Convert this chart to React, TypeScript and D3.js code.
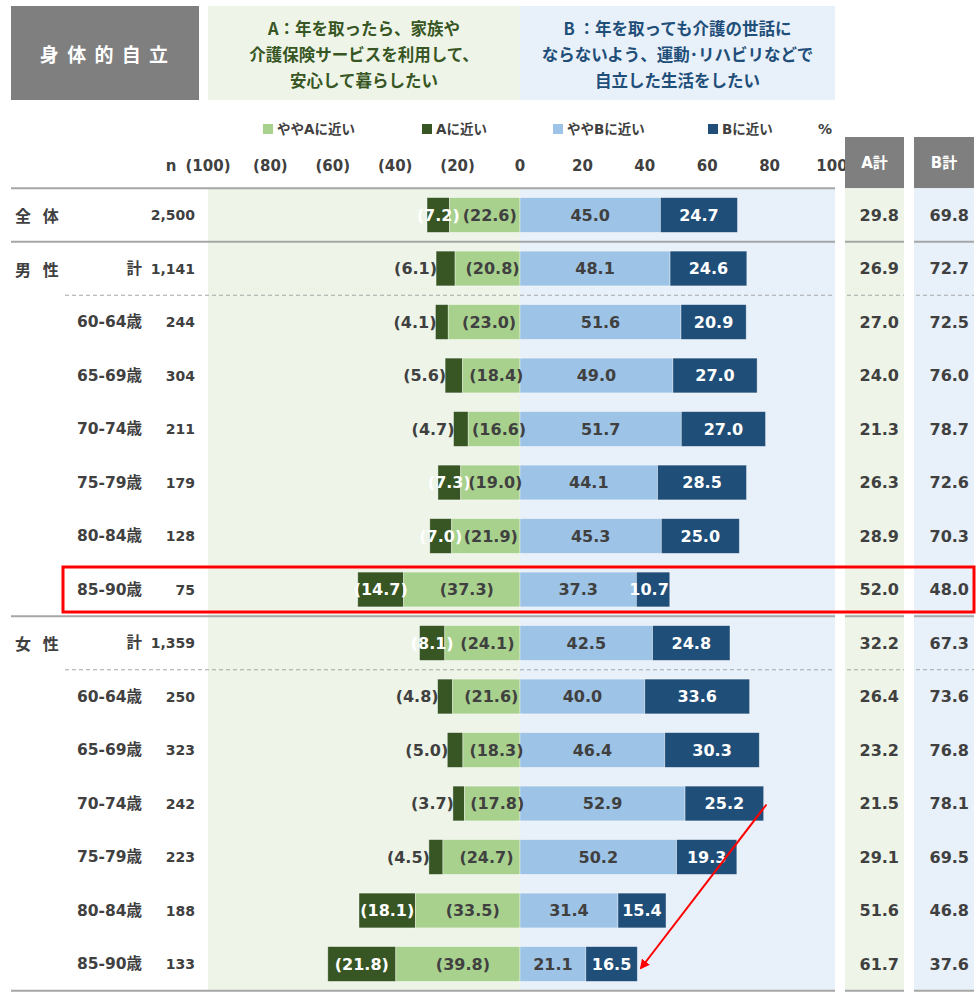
import React from "react";
import * as d3 from "d3";

// ---------- data ----------
const groupLabels = ["全 体", "男 性", "", "", "", "", "", "", "女 性", "", "", "", "", "", ""];
const subLabels = ["", "計", "60-64歳", "65-69歳", "70-74歳", "75-79歳", "80-84歳", "85-90歳", "計", "60-64歳", "65-69歳", "70-74歳", "75-79歳", "80-84歳", "85-90歳"];
const nValues = ["2,500", "1,141", "244", "304", "211", "179", "128", "75", "1,359", "250", "323", "242", "223", "188", "133"];
const nearA = [7.2, 6.1, 4.1, 5.6, 4.7, 7.3, 7.0, 14.7, 8.1, 4.8, 5.0, 3.7, 4.5, 18.1, 21.8];
const slightlyA = [22.6, 20.8, 23.0, 18.4, 16.6, 19.0, 21.9, 37.3, 24.1, 21.6, 18.3, 17.8, 24.7, 33.5, 39.8];
const slightlyB = [45.0, 48.1, 51.6, 49.0, 51.7, 44.1, 45.3, 37.3, 42.5, 40.0, 46.4, 52.9, 50.2, 31.4, 21.1];
const nearB = [24.7, 24.6, 20.9, 27.0, 27.0, 28.5, 25.0, 10.7, 24.8, 33.6, 30.3, 25.2, 19.3, 15.4, 16.5];
const totalA = [29.8, 26.9, 27.0, 24.0, 21.3, 26.3, 28.9, 52.0, 32.2, 26.4, 23.2, 21.5, 29.1, 51.6, 61.7];
const totalB = [69.8, 72.7, 72.5, 76.0, 78.7, 72.6, 70.3, 48.0, 67.3, 73.6, 76.8, 78.1, 69.5, 46.8, 37.6];
const axisTicks = [-100, -80, -60, -40, -20, 0, 20, 40, 60, 80, 100];
const legendLabels = ["ややAに近い", "Aに近い", "ややBに近い", "Bに近い"];
const headerA = ["A：年を取ったら、家族や", "介護保険サービスを利用して、", "安心して暮らしたい"];
const headerB = ["B ：年を取っても介護の世話に", "ならないよう、運動･リハビリなどで", "自立した生活をしたい"];
const title = "身 体 的 自 立";
const solidAfter = [0, 7];
const dashedAfter = [1, 8];
const highlightRow = 7;
const arrowFrom = { row: 11, value: 79 };
const arrowTo = { row: 14, value: 38.8 };

// ---------- style ----------
const C_LA = "#a9d18e";
const C_DA = "#375623";
const C_LB = "#9dc3e6";
const C_DB = "#1f4e79";
const BG_A = "#eef5e8";
const BG_B = "#e8f1fa";
const GRAY = "#7f7f7f";
const TXT = "#404040";
const LINE = "#a6a6a6";
const NUM = "'DejaVu Sans', 'Noto Sans CJK JP', sans-serif";
const JP = "'Noto Sans CJK JP', sans-serif";
const legendColors = [C_LA, C_DA, C_LB, C_DB];

export default function App() {
  const W = 980;
  const H = 1003;
  const rows = d3.range(nValues.length);
  const x = d3.scaleLinear().domain([-100, 100]).range([208, 832]);
  const y = d3
    .scaleBand<number>()
    .domain(rows)
    .range([188.25, 990.75])
    .paddingInner(0.35)
    .paddingOuter(0.175);
  const bw = y.bandwidth();
  const step = y.step();
  const cy = (i: number) => (y(i) as number) + bw / 2;
  const top = 188.25;
  const bottom = 990.75;
  const boundary = (i: number) => cy(i) + step / 2;

  const plotRight = 835;
  const colA: [number, number] = [845, 904];
  const colB: [number, number] = [914, 974];

  const legendX = [263, 422, 553, 708];

  const fmtTick = (v: number) => (v < 0 ? `(${-v})` : `${v}`);

  return (
    <svg
      width={W}
      height={H}
      style={{ position: "absolute", left: 0, top: 0, display: "block", background: "#fff" }}
    >
      <defs>
        <marker id="arrowhead" viewBox="0 0 10 10" refX="8" refY="5" markerWidth="5" markerHeight="5" orient="auto">
          <path d="M0,0 L10,5 L0,10 z" fill="#ff0000" />
        </marker>
      </defs>

      {/* header boxes */}
      <rect x={11} y={6} width={188} height={94} fill={GRAY} />
      <text
        x={105}
        y={53}
        textAnchor="middle"
        dominantBaseline="central"
        fill="#fff"
        fontFamily={JP}
        fontWeight={700}
        fontSize={19}
        style={{ whiteSpace: "pre" }}
        xmlSpace="preserve"
        letterSpacing={2}
      >
        {title}
      </text>
      <rect x={x(-100)} y={6} width={x(0) - x(-100)} height={94} fill={BG_A} />
      <rect x={x(0)} y={6} width={plotRight - x(0)} height={94} fill={BG_B} />
      {headerA.map((t, i) => (
        <text key={"ha" + i} x={(x(-100) + x(0)) / 2} y={28 + i * 26} textAnchor="middle" dominantBaseline="central"
          fill={C_DA} fontFamily={JP} fontWeight={700} fontSize={16.5}>
          {t}
        </text>
      ))}
      {headerB.map((t, i) => (
        <text key={"hb" + i} x={(x(0) + plotRight) / 2} y={28 + i * 26} textAnchor="middle" dominantBaseline="central"
          fill={C_DB} fontFamily={JP} fontWeight={700} fontSize={16.5}>
          {t}
        </text>
      ))}

      {/* legend */}
      {legendLabels.map((t, i) => (
        <g key={"lg" + i}>
          <rect x={legendX[i]} y={124} width={10} height={10} fill={legendColors[i]} />
          <text x={legendX[i] + 14} y={129} dominantBaseline="central" fill={TXT} fontFamily={NUM} fontWeight={700} fontSize={13.5}>
            {t}
          </text>
        </g>
      ))}
      <text x={825} y={129} textAnchor="middle" dominantBaseline="central" fill={TXT} fontFamily={NUM} fontWeight={700} fontSize={14}>
        %
      </text>

      {/* axis tick labels */}
      <text x={171} y={166} textAnchor="middle" dominantBaseline="central" fill={TXT} fontFamily={NUM} fontWeight={700} fontSize={15}>
        n
      </text>
      {axisTicks.map((v) => (
        <text key={"t" + v} x={x(v)} y={166} textAnchor="middle" dominantBaseline="central" fill={TXT} fontFamily={NUM} fontWeight={700} fontSize={15}>
          {fmtTick(v)}
        </text>
      ))}

      {/* A計 / B計 headers */}
      <rect x={colA[0]} y={137} width={colA[1] - colA[0]} height={top - 137} fill={GRAY} />
      <rect x={colB[0]} y={137} width={colB[1] - colB[0]} height={top - 137} fill={GRAY} />
      <text x={(colA[0] + colA[1]) / 2} y={163} textAnchor="middle" dominantBaseline="central" fill="#fff" fontFamily={NUM} fontWeight={700} fontSize={15}>
        A計
      </text>
      <text x={(colB[0] + colB[1]) / 2} y={163} textAnchor="middle" dominantBaseline="central" fill="#fff" fontFamily={NUM} fontWeight={700} fontSize={15}>
        B計
      </text>

      {/* plot backgrounds */}
      <rect x={x(-100)} y={top} width={x(0) - x(-100)} height={bottom - top} fill={BG_A} />
      <rect x={x(0)} y={top} width={plotRight - x(0)} height={bottom - top} fill={BG_B} />
      <rect x={colA[0]} y={top} width={colA[1] - colA[0]} height={bottom - top} fill={BG_A} />
      <rect x={colB[0]} y={top} width={colB[1] - colB[0]} height={bottom - top} fill={BG_B} />

      {/* separators */}
      <line x1={11} x2={plotRight} y1={top} y2={top} stroke={LINE} strokeWidth={2} />
      {[...solidAfter.map(boundary), bottom].map((yy, k) => (
        <g key={"sl" + k}>
          <line x1={11} x2={plotRight} y1={yy} y2={yy} stroke={LINE} strokeWidth={2} />
          <line x1={colA[0]} x2={colA[1]} y1={yy} y2={yy} stroke={LINE} strokeWidth={2} />
          <line x1={colB[0]} x2={colB[1]} y1={yy} y2={yy} stroke={LINE} strokeWidth={2} />
        </g>
      ))}
      {dashedAfter.map(boundary).map((yy, k) => (
        <g key={"dl" + k}>
          <line x1={65} x2={plotRight} y1={yy} y2={yy} stroke={LINE} strokeWidth={1} strokeDasharray="4 3" />
          <line x1={colA[0] + 2} x2={colA[1]} y1={yy} y2={yy} stroke={LINE} strokeWidth={1} strokeDasharray="4 3" />
          <line x1={colB[0] + 2} x2={colB[1]} y1={yy} y2={yy} stroke={LINE} strokeWidth={1} strokeDasharray="4 3" />
        </g>
      ))}

      {/* rows */}
      {rows.map((i) => {
        const yy = y(i) as number;
        const c = cy(i);
        const a0 = x(-(nearA[i] + slightlyA[i]));
        const a1 = x(-slightlyA[i]);
        const z = x(0);
        const b1 = x(slightlyB[i]);
        const b2 = x(slightlyB[i] + nearB[i]);
        const insideA = nearA[i] >= 7;
        return (
          <g key={"r" + i}>
            {groupLabels[i] && (
              <text x={15} y={c} dominantBaseline="central" fill={TXT} fontFamily={JP} fontWeight={700} fontSize={16} xmlSpace="preserve" style={{ whiteSpace: "pre" }} letterSpacing={4}>
                {groupLabels[i]}
              </text>
            )}
            {subLabels[i] && (
              <text x={142} y={c} textAnchor="end" dominantBaseline="central" fill={TXT} fontFamily={NUM} fontWeight={700} fontSize={15.5}>
                {subLabels[i]}
              </text>
            )}
            <text x={195} y={c} textAnchor="end" dominantBaseline="central" fill={TXT} fontFamily={NUM} fontWeight={700} fontSize={14}>
              {nValues[i]}
            </text>

            <rect x={a0} y={yy} width={a1 - a0} height={bw} fill={C_DA} stroke="#ffffff" strokeOpacity={0.5} strokeWidth={0.75} />
            <rect x={a1} y={yy} width={z - a1} height={bw} fill={C_LA} stroke="#ffffff" strokeOpacity={0.5} strokeWidth={0.75} />
            <rect x={z} y={yy} width={b1 - z} height={bw} fill={C_LB} stroke="#ffffff" strokeOpacity={0.5} strokeWidth={0.75} />
            <rect x={b1} y={yy} width={b2 - b1} height={bw} fill={C_DB} stroke="#ffffff" strokeOpacity={0.5} strokeWidth={0.75} />

            <text
              x={insideA ? (a0 + a1) / 2 : a0 + 1}
              y={c}
              textAnchor={insideA ? "middle" : "end"}
              dominantBaseline="central"
              fill={insideA ? "#ffffff" : TXT}
              fontFamily={NUM}
              fontWeight={700}
              fontSize={16}
            >
              {`(${nearA[i].toFixed(1)})`}
            </text>
            <text x={(a1 + z) / 2 + 5} y={c} textAnchor="middle" dominantBaseline="central" fill={TXT} fontFamily={NUM} fontWeight={700} fontSize={16}>
              {`(${slightlyA[i].toFixed(1)})`}
            </text>
            <text x={(z + b1) / 2} y={c} textAnchor="middle" dominantBaseline="central" fill={TXT} fontFamily={NUM} fontWeight={700} fontSize={16}>
              {slightlyB[i].toFixed(1)}
            </text>
            <text x={(b1 + b2) / 2 - 4 * (nearB[i] < 12 ? 1 : 0)} y={c} textAnchor="middle" dominantBaseline="central" fill="#ffffff" fontFamily={NUM} fontWeight={700} fontSize={16}>
              {nearB[i].toFixed(1)}
            </text>

            <text x={colA[1] - 5} y={c} textAnchor="end" dominantBaseline="central" fill={TXT} fontFamily={NUM} fontWeight={700} fontSize={16}>
              {totalA[i].toFixed(1)}
            </text>
            <text x={colB[1] - 5} y={c} textAnchor="end" dominantBaseline="central" fill={TXT} fontFamily={NUM} fontWeight={700} fontSize={16}>
              {totalB[i].toFixed(1)}
            </text>
          </g>
        );
      })}

      {/* highlight box */}
      <rect x={63} y={cy(highlightRow) - 22.5} width={974 - 63} height={45} fill="none" stroke="#ff0000" strokeWidth={3} />

      {/* annotation arrow */}
      <line
        x1={x(arrowFrom.value)}
        y1={cy(arrowFrom.row) + 1}
        x2={x(arrowTo.value)}
        y2={cy(arrowTo.row) + 4}
        stroke="#ff0000"
        strokeWidth={2}
        markerEnd="url(#arrowhead)"
      />
    </svg>
  );
}
